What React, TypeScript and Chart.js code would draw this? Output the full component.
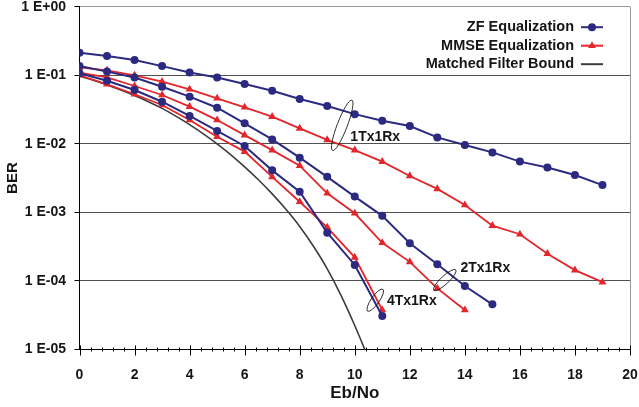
import React, { useEffect, useRef } from "react";
import { Chart, registerables } from "chart.js";

Chart.register(...registerables);

// ---- data ----
const EBNO = [0, 1, 2, 3, 4, 5, 6, 7, 8, 9, 10, 11, 12, 13, 14, 15, 16, 17, 18, 19];

const ZF_1TX = [0.213, 0.191, 0.167, 0.136, 0.110, 0.093, 0.0746, 0.0595, 0.0451, 0.0356, 0.0271, 0.0217, 0.0182, 0.0124, 0.0096, 0.0075, 0.0055, 0.0045, 0.0035, 0.0025];
const MMSE_1TX = [0.13, 0.118, 0.1, 0.0805, 0.0624, 0.0461, 0.0341, 0.0249, 0.0168, 0.0114, 0.0081, 0.0055, 0.0034, 0.0022, 0.00128, 0.00064, 0.00048, 0.00025, 0.000144, 0.000096];
const ZF_2TX = [0.136, 0.113, 0.0927, 0.068, 0.0487, 0.0336, 0.0199, 0.0116, 0.00628, 0.0033, 0.0017, 0.00089, 0.000354, 0.000175, 0.0000843, 0.0000456];
const MMSE_2TX = [0.109, 0.093, 0.0697, 0.0515, 0.0348, 0.0222, 0.0134, 0.0081, 0.0048, 0.0019, 0.00097, 0.00036, 0.00019, 0.000078, 0.0000377];
const ZF_4TX = [0.107, 0.0833, 0.061, 0.0411, 0.0255, 0.0154, 0.0093, 0.0041, 0.0020, 0.000506, 0.000171, 0.0000308];
const MMSE_4TX = [0.1, 0.0738, 0.0528, 0.0368, 0.0222, 0.0127, 0.0077, 0.0033, 0.00143, 0.000606, 0.000221, 0.0000377];

const MF_EBNO = [0, 0.5, 1, 1.5, 2, 2.5, 3, 3.5, 4, 4.5, 5, 5.5, 6, 6.5, 7, 7.5, 8, 8.5, 9, 9.5, 10, 10.5];
const MF_BER = [0.0975, 0.0847, 0.0724, 0.0611, 0.0507, 0.0412, 0.0329, 0.0254, 0.0191, 0.014, 0.01, 0.00692, 0.00462, 0.00299, 0.00186, 0.00111, 0.000624, 0.00032, 0.00015, 0.0000617, 0.0000224, 0.0000074];

const Y_TICKS = [1, 0.1, 0.01, 0.001, 0.0001, 0.00001];
const Y_TICK_LABELS = ["1 E+00", "1 E-01", "1 E-02", "1 E-03", "1 E-04", "1 E-05"];
const X_MIN = 0;
const X_MAX = 20;
const X_MAJOR_STEP = 2;
const X_MINOR_STEP = 0.4;

const LEGEND_LABELS = ["ZF Equalization", "MMSE Equalization", "Matched Filter Bound"];
const GROUP_LABELS = ["1Tx1Rx", "2Tx1Rx", "4Tx1Rx"];
const GROUP_LABEL_AT = [[9.84, 0.0127], [13.84, 0.000153], [11.17, 0.000051]];
const GROUP_ELLIPSE_AT = [[9.545, 0.0186], [13.27, 0.000103], [10.745, 0.0000524]];

// ---- styles ----
const NAVY = "#2B2A80";
const RED = "#E3262B";
const MF_COLOR = "#3C3C3C";
const FONT = "'Liberation Sans', Arial, Helvetica, sans-serif";
const TEXT = "#151515";
const ELLIPSE_SIZE = [[5, 27, 21], [4, 15, 47], [4, 13.3, 35]]; // rx, ry, rotation deg

const pts = (xs: number[], ys: number[]) => ys.map((y, i) => ({ x: xs[i], y }));

const decorPlugin = {
  id: "decor",
  afterDraw(chart: any) {
    const { ctx, chartArea, scales } = chart;
    const xs = scales.x;
    const ys = scales.y;
    ctx.save();
    // right border
    ctx.strokeStyle = "#9a9a9a";
    ctx.lineWidth = 1;
    ctx.beginPath();
    const rx = Math.round(chartArea.right) + 0.5;
    ctx.moveTo(rx, chartArea.top);
    ctx.lineTo(rx, chartArea.bottom);
    ctx.stroke();

    // x tick marks
    const axisY = Math.round(chartArea.bottom) + 0.5;
    ctx.strokeStyle = "#000";
    ctx.beginPath();
    const nMinor = Math.round((X_MAX - X_MIN) / X_MINOR_STEP);
    for (let i = 0; i <= nMinor; i++) {
      const v = X_MIN + i * X_MINOR_STEP;
      const px = Math.round(xs.getPixelForValue(v)) + 0.5;
      const isMajor = Math.abs(v / X_MAJOR_STEP - Math.round(v / X_MAJOR_STEP)) < 1e-6;
      if (isMajor) {
        ctx.moveTo(px, axisY - 5);
        ctx.lineTo(px, axisY + 5);
      } else {
        ctx.moveTo(px, axisY - 3);
        ctx.lineTo(px, axisY + 1);
      }
    }
    ctx.stroke();

    // group annotations (ellipses + labels)
    ctx.strokeStyle = "#1a1a1a";
    ctx.lineWidth = 0.9;
    GROUP_ELLIPSE_AT.forEach(([ex, ey], i) => {
      const [erx, ery, rot] = ELLIPSE_SIZE[i];
      ctx.beginPath();
      ctx.ellipse(xs.getPixelForValue(ex), ys.getPixelForValue(ey), erx, ery, (rot * Math.PI) / 180, 0, Math.PI * 2);
      ctx.stroke();
    });
    ctx.fillStyle = TEXT;
    ctx.font = `bold 14px ${FONT}`;
    ctx.textAlign = "left";
    ctx.textBaseline = "middle";
    GROUP_LABEL_AT.forEach(([lx, ly], i) => {
      ctx.fillText(GROUP_LABELS[i], xs.getPixelForValue(lx), ys.getPixelForValue(ly));
    });

    // legend
    const colors = [NAVY, RED, MF_COLOR];
    const rowY = [20.5, 39, 57.5];
    ctx.font = `bold 14.5px ${FONT}`;
    ctx.textAlign = "right";
    LEGEND_LABELS.forEach((lab, i) => {
      const y = chartArea.top + rowY[i];
      ctx.fillStyle = TEXT;
      ctx.fillText(lab, chartArea.right - 56, y);
      const x0 = chartArea.right - 49;
      const x1 = chartArea.right - 27;
      const xc = (x0 + x1) / 2;
      ctx.strokeStyle = colors[i];
      ctx.lineWidth = 2;
      ctx.beginPath();
      ctx.moveTo(x0, y);
      ctx.lineTo(x1, y);
      ctx.stroke();
      ctx.fillStyle = colors[i];
      if (i === 0) {
        ctx.beginPath();
        ctx.arc(xc, y, 4, 0, Math.PI * 2);
        ctx.fill();
      } else if (i === 1) {
        const r = 4.5;
        ctx.beginPath();
        ctx.moveTo(xc, y - r);
        ctx.lineTo(xc + r * 0.866, y + r * 0.5);
        ctx.lineTo(xc - r * 0.866, y + r * 0.5);
        ctx.closePath();
        ctx.fill();
      }
    });
    ctx.restore();
  },
};

export default function App() {
  const ref = useRef<HTMLCanvasElement | null>(null);

  useEffect(() => {
    if (!ref.current) return;
    const zf = (data: number[]) => ({
      data: pts(EBNO, data),
      borderColor: NAVY,
      backgroundColor: NAVY,
      borderWidth: 2,
      pointStyle: "circle",
      pointRadius: 4,
      pointBorderWidth: 0,
      tension: 0,
    });
    const mmse = (data: number[]) => ({
      data: pts(EBNO, data),
      borderColor: RED,
      backgroundColor: RED,
      borderWidth: 1.8,
      pointStyle: "triangle",
      pointRadius: 4.6,
      pointBorderWidth: 0,
      tension: 0,
    });
    const chart = new Chart(ref.current, {
      type: "line",
      data: {
        datasets: [
          { label: "ZF 1Tx1Rx", ...zf(ZF_1TX) },
          { label: "ZF 2Tx1Rx", ...zf(ZF_2TX) },
          { label: "ZF 4Tx1Rx", ...zf(ZF_4TX) },
          { label: "MMSE 1Tx1Rx", ...mmse(MMSE_1TX) },
          { label: "MMSE 2Tx1Rx", ...mmse(MMSE_2TX) },
          { label: "MMSE 4Tx1Rx", ...mmse(MMSE_4TX) },
          {
            label: "Matched Filter Bound",
            data: pts(MF_EBNO, MF_BER),
            borderColor: MF_COLOR,
            borderWidth: 1.6,
            pointRadius: 0,
            cubicInterpolationMode: "monotone",
          },
        ] as any,
      },
      options: {
        animation: false,
        responsive: false,
        events: [],
        layout: { padding: { top: 6.7, right: 9, left: 0, bottom: 0 } },
        plugins: { legend: { display: false }, tooltip: { enabled: false } },
        scales: {
          x: {
            type: "linear",
            min: X_MIN,
            max: X_MAX,
            ticks: {
              stepSize: X_MAJOR_STEP,
              autoSkip: false,
              maxRotation: 0,
              padding: 17,
              color: TEXT,
              font: { family: FONT, size: 14, weight: "bold" },
            },
            grid: { display: true, drawOnChartArea: false, drawTicks: false },
            border: { display: true, color: "#000", width: 1 },
            title: {
              display: true,
              text: "Eb/No",
              color: TEXT,
              font: { family: FONT, size: 17, weight: "bold" },
              padding: { top: 0, bottom: 3 },
            },
            afterFit: (s: any) => {
              s.height = 57.5;
              s.paddingLeft = 0;
              s.paddingRight = 0;
            },
          },
          y: {
            type: "logarithmic",
            min: 1e-5,
            max: 1,
            afterBuildTicks: (s: any) => {
              s.ticks = Y_TICKS.map((v) => ({ value: v }));
            },
            ticks: {
              autoSkip: false,
              padding: 8.5,
              color: TEXT,
              font: { family: FONT, size: 14, weight: "bold" },
              callback: (v: any) => Y_TICK_LABELS[Math.round(-Math.log10(Number(v)))],
            },
            grid: {
              color: (c: any) => (c.tick && c.tick.value === 1 ? "#9a9a9a" : "#505050"),
              tickColor: "#000",
              tickLength: 5,
              lineWidth: 1,
            },
            border: { display: true, color: "#000", width: 1 },
            title: {
              display: true,
              text: "BER",
              color: TEXT,
              font: { family: FONT, size: 15, weight: "bold" },
              padding: { top: 4, bottom: 0 },
            },
            afterFit: (s: any) => {
              s.width = 79.5;
              s.paddingTop = 0;
              s.paddingBottom = 0;
            },
          },
        },
      } as any,
      plugins: [decorPlugin],
    });
    return () => chart.destroy();
  }, []);

  return (
    <div style={{ position: "absolute", left: 0, top: 0, width: 639, height: 407, background: "#fff" }}>
      <canvas ref={ref} width={639} height={407} style={{ display: "block" }} />
    </div>
  );
}
